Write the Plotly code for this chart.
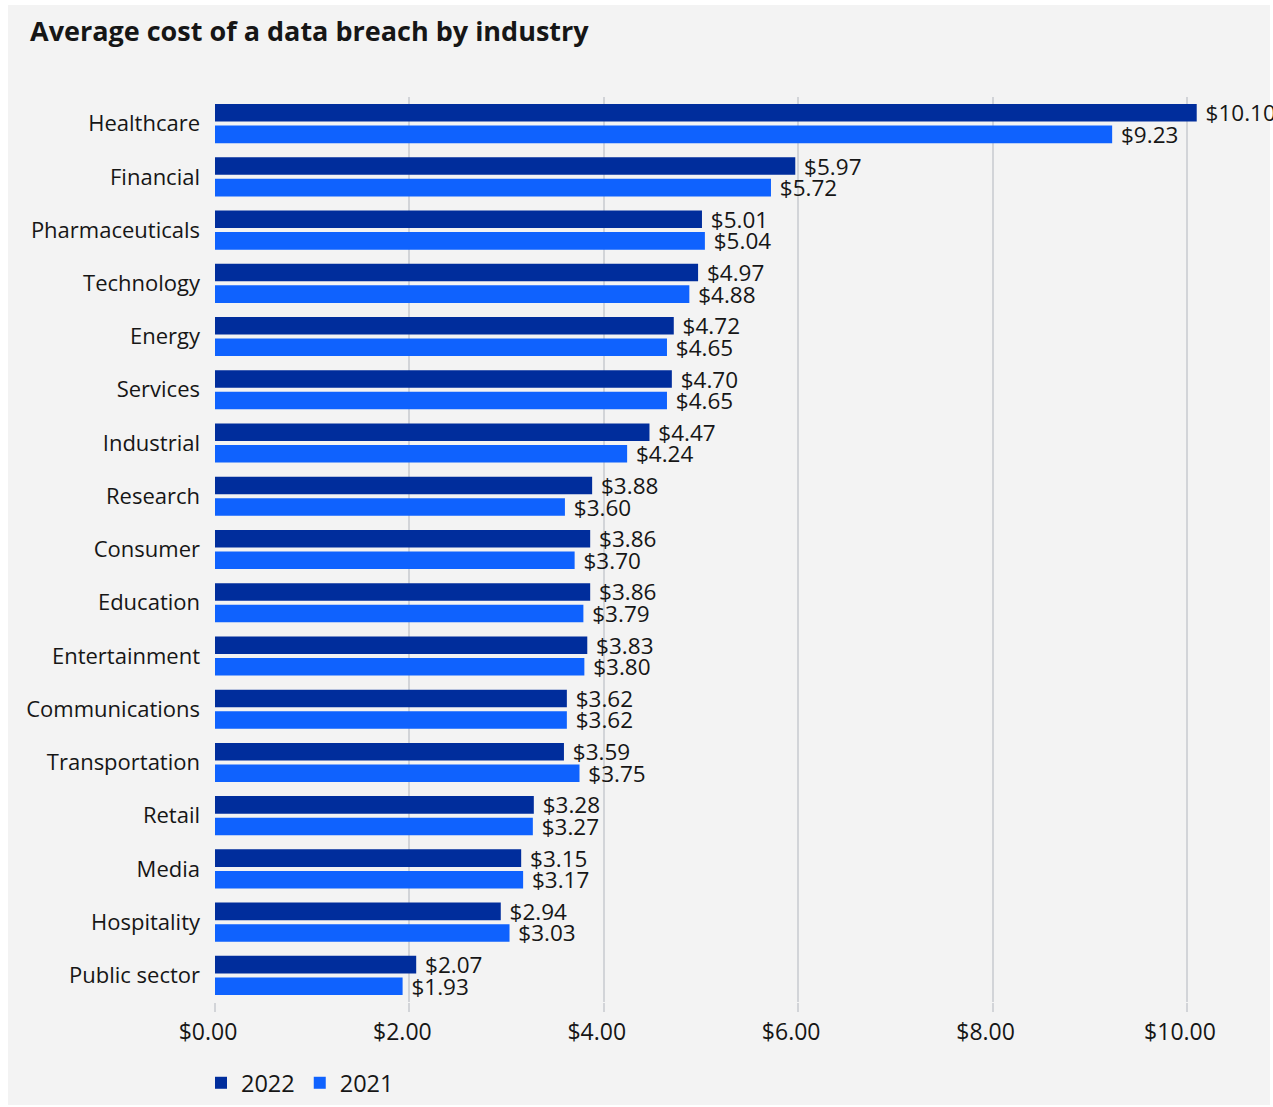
import plotly.graph_objects as go

industries = ["Healthcare", "Financial", "Pharmaceuticals", "Technology", "Energy",
              "Services", "Industrial", "Research", "Consumer", "Education",
              "Entertainment", "Communications", "Transportation", "Retail",
              "Media", "Hospitality", "Public sector"]
cost_2022 = [10.10, 5.97, 5.01, 4.97, 4.72, 4.70, 4.47, 3.88, 3.86, 3.86,
             3.83, 3.62, 3.59, 3.28, 3.15, 2.94, 2.07]
cost_2021 = [9.23, 5.72, 5.04, 4.88, 4.65, 4.65, 4.24, 3.60, 3.70, 3.79,
             3.80, 3.62, 3.75, 3.27, 3.17, 3.03, 1.93]
tick_vals = [0, 2, 4, 6, 8, 10]
tick_text = ["$0.00", "$2.00", "$4.00", "$6.00", "$8.00", "$10.00"]

FONT = "Open Sans"
TXT = "#161616"
W, H = 1273, 1107
ML, MR, MT, MB = 215, 33, 97, 105
pw = W - ML - MR
ph = H - MT - MB

fig = go.Figure()
fig.add_trace(go.Bar(
    y=industries, x=cost_2022, name="2022", orientation="h",
    marker=dict(color="#002d9c", line=dict(width=0)),
    texttemplate="\u00a0$%{x:.2f}", textposition="outside", cliponaxis=False,
    constraintext="none",
    textfont=dict(family=FONT, size=22.5, color=TXT),
))
fig.add_trace(go.Bar(
    y=industries, x=cost_2021, name="2021", orientation="h",
    marker=dict(color="#0f62fe", line=dict(width=0)),
    texttemplate="\u00a0$%{x:.2f}", textposition="outside", cliponaxis=False,
    constraintext="none",
    textfont=dict(family=FONT, size=22.5, color=TXT),
))

# white frame around the gray panel
def px_x(p):
    return (p - ML) / pw

def px_y(p):
    return (H - MB - p) / ph

for (a, b, c, d) in [(-5, 8, -5, H + 5), (-5, W + 5, -5, 5), (-5, W + 5, 1105, H + 5), (1270, W + 5, -5, H + 5)]:
    fig.add_shape(type="rect", xref="paper", yref="paper",
                  x0=px_x(a), x1=px_x(b), y0=px_y(d), y1=px_y(c),
                  fillcolor="#ffffff", line=dict(width=0), layer="below")

fig.update_layout(
    width=W, height=H,
    margin=dict(l=ML, r=MR, t=MT, b=MB, pad=0, autoexpand=False),
    paper_bgcolor="#f3f3f3",
    plot_bgcolor="rgba(0,0,0,0)",
    barmode="group", bargap=0.19, bargroupgap=0.186,
    font=dict(family=FONT, color=TXT),
    title=dict(text="<b>Average cost of a data breach by industry</b>",
               x=30 / W, xanchor="left", y=1 - 32 / H, yanchor="middle",
               font=dict(family=FONT, size=27, color=TXT)),
    xaxis=dict(range=[0, pw / 97.2], tickvals=tick_vals, ticktext=tick_text,
               showgrid=True, gridcolor="#d2d4d8", gridwidth=2, zeroline=False,
               ticks="outside", ticklen=9, tickcolor="#d2d4d8", tickwidth=2,
               ticklabelstandoff=0, ticklabelshift=-7,
               tickfont=dict(family=FONT, size=23, color=TXT),
               showline=False),
    yaxis=dict(autorange="reversed", showgrid=False, zeroline=False,
               ticks="", ticklabelstandoff=14,
               tickfont=dict(family=FONT, size=22, color=TXT)),
    legend=dict(orientation="h", xref="container", yref="container",
                x=201 / W, xanchor="left", y=1 - 1083 / H, yanchor="middle",
                bgcolor="rgba(0,0,0,0)", font=dict(family=FONT, size=23.5, color=TXT),
                itemwidth=30, traceorder="normal"),
    showlegend=True,
)

fig.write_html("out.html")
